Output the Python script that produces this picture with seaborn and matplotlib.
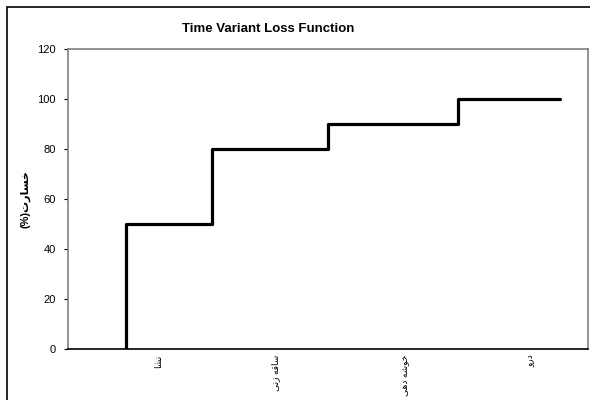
import matplotlib
matplotlib.use("Agg")
import matplotlib.pyplot as plt
import seaborn as sns
from matplotlib.patches import Rectangle

# Persian labels written in shaped presentation forms, visual (left-to-right) order
stages = ["\uFE8E\uFEB8\uFEE7",                          # نشا
          "\uFEF0\uFEE7\uFEAF \uFEEA\uFED7\uFE8E\uFEB3",  # ساقه زنی
          "\uFEF0\uFEEB\uFEA9 \uFEEA\uFEB7\uFEEE\uFEA7",  # خوشه دهی
          "\uFEED\uFEAD\uFEA9"]                          # درو
stage_pos = [0.70, 1.60, 2.60, 3.55]
ylabel = "(%)\uFE95\uFEAD\uFE8E\uFEB4\uFEA7"             # خسارت(%)

# step function: loss (%) over time
step_x = [0.446, 0.446, 1.108, 2.0, 3.0, 3.785]
loss = [0, 50, 80, 90, 100, 100]
yticks = [0, 20, 40, 60, 80, 100, 120]

sns.set_style("white")
plt.rcParams["font.family"] = ["Liberation Sans", "DejaVu Sans"]
plt.rcParams["text.color"] = "black"
plt.rcParams["xtick.color"] = "black"
plt.rcParams["ytick.color"] = "black"

fig = plt.figure(figsize=(5.9, 4), dpi=100)
ax = fig.add_axes([68 / 590, 1 - 349 / 400, 520 / 590, 300 / 400])

sns.lineplot(x=step_x, y=loss, ax=ax, estimator=None, sort=False,
             drawstyle="steps-post", color="black", linewidth=2.3)

ax.set_xlim(0, 4)
ax.set_ylim(0, 120)
ax.set_yticks(yticks)
ax.set_yticklabels([str(v) for v in yticks], fontsize=8)
ax.tick_params(axis="y", left=True, length=3, width=0.8, color="black", pad=6)
ax.set_xticks(stage_pos)
ax.set_xticklabels(stages, rotation=90, fontsize=6.5, va="top", ha="center")
ax.tick_params(axis="x", bottom=False, length=0, pad=4)

for side in ["top", "right", "left"]:
    ax.spines[side].set_color("#808080")
    ax.spines[side].set_linewidth(1.2)
ax.spines["bottom"].set_color("black")
ax.spines["bottom"].set_linewidth(1.2)

ax.set_ylabel(ylabel, fontsize=8, fontweight="bold", color="black")
ax.yaxis.set_label_coords(-0.072, 0.5)

fig.text(268 / 590, 1 - 29 / 400, "Time Variant Loss Function",
         ha="center", va="center", fontsize=9.5, fontweight="bold")

# chart-area border (cropped on the right and bottom)
fig.patches.append(Rectangle((7 / 590, -0.02), 1.05, 0.9825 + 0.02,
                             transform=fig.transFigure, fill=False,
                             edgecolor="black", linewidth=1.2))

fig.savefig("out.png", dpi=100)
